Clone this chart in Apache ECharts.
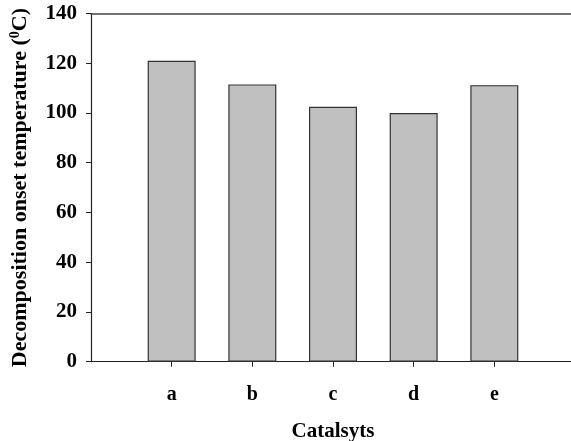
<!DOCTYPE html>
<html>
<head>
<meta charset="utf-8">
<script src="https://cdn.jsdelivr.net/npm/echarts@6/dist/echarts.min.js"></script>
<style>html,body{margin:0;padding:0;background:#fff;}#c{width:571px;height:441px;}</style>
</head>
<body>
<div id="c"></div>
<script>
const categories = ['', 'a', 'b', 'c', 'd', 'e', ''];
const values = [null, 121, 111.5, 102.5, 100, 111.2, null];
const yTicks = [0, 20, 40, 60, 80, 100, 120, 140];

const font = "'Liberation Serif', 'Times New Roman', serif";
const chart = echarts.init(document.getElementById('c'), null, {renderer: 'canvas'});
chart.setOption({
  animation: false,
  backgroundColor: '#fff',
  grid: {left: 91, right: -4, top: 13.5, bottom: 79.3, containLabel: false, outerBoundsMode: 'none'},
  xAxis: [{
    type: 'category',
    data: categories,
    boundaryGap: false,
    name: 'Catalsyts',
    nameLocation: 'middle',
    nameGap: 59,
    nameTextStyle: {fontFamily: font, fontWeight: 'bold', fontSize: 21, color: '#000'},
    axisLine: {show: true, lineStyle: {color: '#222', width: 1.2}},
    axisTick: {show: true, length: 5, inside: false, alignWithLabel: true,
      interval: function (i, v) { return v !== ''; }, lineStyle: {color: '#222'}},
    axisLabel: {interval: 0, margin: 23, fontFamily: font, fontWeight: 'bold', fontSize: 20, color: '#000'},
    splitLine: {show: false}
  }, {
    type: 'category',
    data: categories,
    boundaryGap: false,
    position: 'top',
    axisLine: {show: true, lineStyle: {color: '#444', width: 1.5}},
    axisTick: {show: false},
    axisLabel: {show: false},
    splitLine: {show: false}
  }],
  yAxis: {
    type: 'value',
    min: 0, max: 140, interval: 20,
    name: '{a|Decomposition onset temperature (}{s|0}{a|C)}',
    nameLocation: 'middle',
    nameGap: 59,
    nameRotate: 90,
    nameTextStyle: {
      rich: {
        a: {fontFamily: font, fontWeight: 'bold', fontSize: 22, color: '#000'},
        s: {fontFamily: font, fontWeight: 'bold', fontSize: 14, color: '#000', padding: [0, 0, 10, 0]}
      }
    },
    axisLine: {show: true, lineStyle: {color: '#222', width: 1.2}},
    axisTick: {show: true, length: 5, lineStyle: {color: '#222'}},
    axisLabel: {margin: 14, fontFamily: font, fontWeight: 'bold', fontSize: 21, color: '#000',
      formatter: function (v) { return yTicks.indexOf(v) >= 0 ? String(v) : ''; }},
    splitLine: {show: false}
  },
  series: [{
    type: 'bar',
    data: values,
    barWidth: 48,
    itemStyle: {color: '#c0c0c0', borderColor: '#333', borderWidth: 1.2}
  }]
});
</script>
</body>
</html>
